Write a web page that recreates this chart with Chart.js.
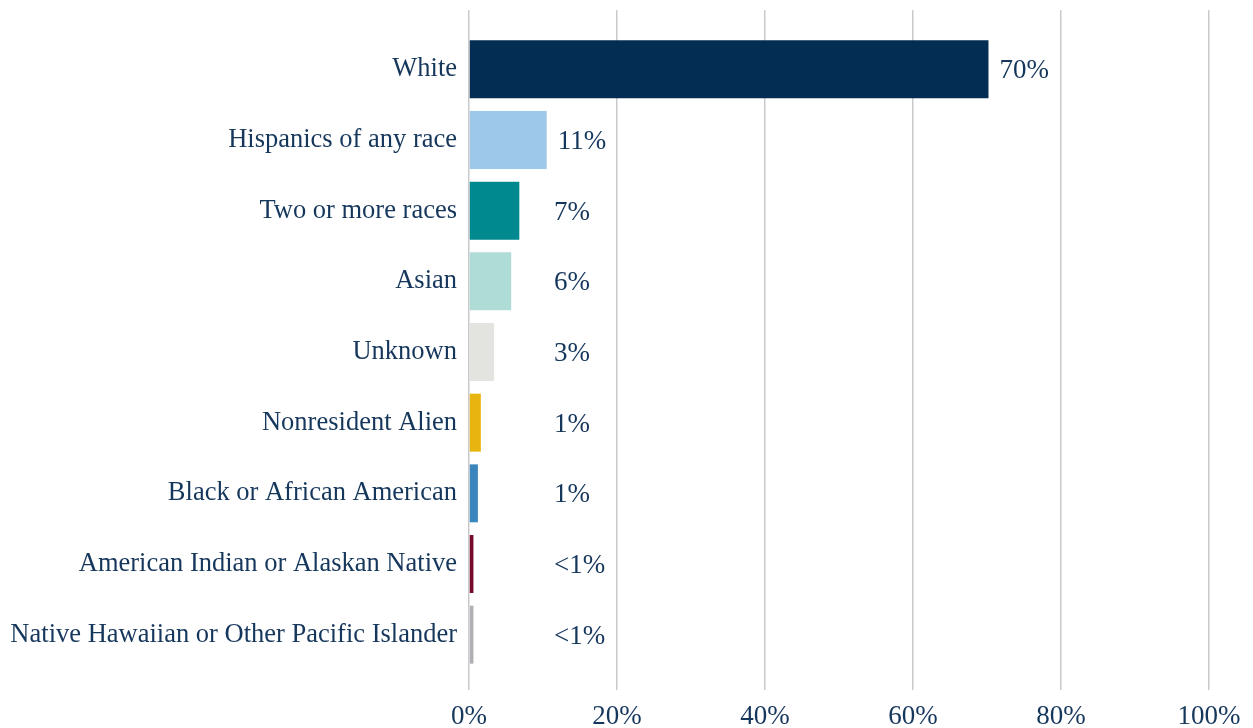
<!DOCTYPE html>
<html>
<head>
<meta charset="utf-8">
<script src="https://cdn.jsdelivr.net/npm/chart.js@4"></script>
<style>
  html, body { margin: 0; padding: 0; background: #fff; }
  #wrap { width: 1253px; height: 728px; }
</style>
</head>
<body>
<div id="wrap"><canvas id="raceChart"></canvas></div>
<script>
// categories, top to bottom
const categories = [
    'White',
    'Hispanics of any race',
    'Two or more races',
    'Asian',
    'Unknown',
    'Nonresident Alien',
    'Black or African American',
    'American Indian or Alaskan Native',
    'Native Hawaiian or Other Pacific Islander'
];
// share of students, percent
const shares = [70.2, 10.5, 6.8, 5.7, 3.4, 1.6, 1.2, 0.6, 0.6];
// printed value labels
const valueLabels = ['70%', '11%', '7%', '6%', '3%', '1%', '1%', '<1%', '<1%'];
const barColors = ['#032d52', '#9dc8ea', '#008a90', '#b0dcd7', '#e3e3df', '#e8b40f', '#3a86bc', '#760a2b', '#b0b0b4'];
const xTicks = [0, 20, 40, 60, 80, 100];

const textColor = '#16375c';
const gridColor = '#cacacd';
const serif = "'Liberation Serif', 'DejaVu Serif', serif";

// draws the value next to each bar; short bars share one column
const valueLabelPlugin = {
    id: 'valueLabels',
    afterDatasetsDraw(chart) {
        const ctx = chart.ctx;
        const xScale = chart.scales.x;
        const columnX = xScale.getPixelForValue(11.5);
        const meta = chart.getDatasetMeta(0);
        ctx.save();
        ctx.font = '27px ' + serif;
        ctx.fillStyle = textColor;
        ctx.textAlign = 'left';
        ctx.textBaseline = 'middle';
        meta.data.forEach((bar, i) => {
            const x = Math.max(bar.x + 11, columnX);
            ctx.fillText(valueLabels[i], x, bar.y + 2);
        });
        ctx.restore();
    }
};

const ctx = document.getElementById('raceChart').getContext('2d');

const raceChart = new Chart(ctx, {
    type: 'bar',
    data: {
        labels: categories,
        datasets: [{
            data: shares,
            backgroundColor: barColors,
            borderWidth: 0,
            barPercentage: 0.82,
            categoryPercentage: 1
        }]
    },
    options: {
        indexAxis: 'y',
        responsive: true,
        maintainAspectRatio: false,
        animation: false,
        layout: { padding: { top: 10, right: 44, bottom: 0, left: 0 } },
        plugins: {
            legend: { display: false },
            tooltip: { enabled: false }
        },
        scales: {
            x: {
                min: 0,
                max: 100,
                afterBuildTicks: s => { s.ticks = xTicks.map(v => ({ value: v })); },
                afterFit: s => { s.height = 58; },
                border: { display: false },
                grid: { color: gridColor, lineWidth: 1.5, tickLength: 20 },
                ticks: {
                    color: textColor,
                    padding: 11,
                    font: { family: serif, size: 27 },
                    callback: v => v + '%'
                }
            },
            xTop: {
                position: 'top',
                min: 0,
                max: 100,
                afterBuildTicks: s => { s.ticks = xTicks.map(v => ({ value: v })); },
                border: { display: false },
                grid: { color: gridColor, lineWidth: 1.5, tickLength: 24, drawOnChartArea: false },
                ticks: { display: false }
            },
            y: {
                afterFit: s => { s.width = 469; },
                border: { display: false },
                grid: { display: false, drawTicks: false },
                ticks: {
                    color: textColor,
                    padding: 12,
                    font: { family: serif, size: 26.5 }
                }
            }
        }
    },
    plugins: [valueLabelPlugin]
});
</script>
</body>
</html>
